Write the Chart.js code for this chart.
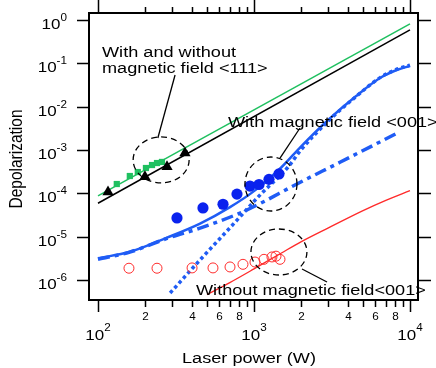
<!DOCTYPE html>
<html>
<head>
<meta charset="utf-8">
<script src="https://cdn.jsdelivr.net/npm/chart.js@4/dist/chart.umd.min.js"></script>
<style>
  html, body { margin: 0; padding: 0; background: #fff; }
  canvas { display: block; }
</style>
</head>
<body>
<canvas id="chart" width="436" height="368"></canvas>
<script>
// Depolarization vs laser power, log-log

// ── straight fits for <111> (with / without field) ──
const fitX = [100, 10000];
const fitGreen = [8.7e-5, 0.81];
const fitBlack = [5.9e-5, 0.59];

// ── measured points ──
const squareX = [132, 160, 180, 203, 222, 239, 257];
const squareY = [1.64e-4, 2.51e-4, 3.1e-4, 3.84e-4, 4.5e-4, 5.0e-4, 5.3e-4];
const triX = [116, 200, 277, 361];
const triY = [1.07e-4, 2.4e-4, 4.1e-4, 8.5e-4];
const dotX = [321, 471, 633, 778, 943, 1077, 1248, 1446];
const dotY = [2.7e-5, 4.6e-5, 5.6e-5, 9.6e-5, 1.47e-4, 1.6e-4, 2.1e-4, 2.8e-4];
const ringX = [158, 239, 401, 546, 702, 850, 1015, 1159, 1304, 1384, 1468];
const ringY = [1.87e-6, 1.87e-6, 1.9e-6, 1.9e-6, 2.0e-6, 2.3e-6, 2.6e-6, 3.0e-6, 3.4e-6, 3.55e-6, 3.0e-6];

// ── model curves for <001> ──
const solidX = [100, 160, 277, 451, 702, 1015, 1500, 2000, 3000, 4500, 6500, 8300, 10000];
const solidY = [3.16e-6, 4.47e-6, 9.5e-6, 2.0e-5, 4.8e-5, 1.17e-4, 4.0e-4, 1.2e-3, 5.0e-3, 1.74e-2, 4.7e-2, 7.1e-2, 8.7e-2];
const dottedX = [290, 451, 778, 1091, 1650, 2000, 3000, 4500, 6500, 8300, 10000];
const dottedY = [5.0e-7, 2.9e-6, 2.4e-5, 9.1e-5, 4.0e-4, 1.0e-3, 4.7e-3, 1.7e-2, 4.8e-2, 7.4e-2, 9.1e-2];
const dashDotX = [100, 160, 277, 451, 813, 1143, 1780, 3555, 8270];
const dashDotY = [3.0e-6, 4.4e-6, 9.1e-6, 1.58e-5, 3.5e-5, 6.3e-5, 1.48e-4, 5.2e-4, 2.45e-3];
const redX = [500, 700, 1000, 1500, 2000, 3000, 5000, 7000, 10000];
const redY = [4.6e-7, 8.7e-7, 1.8e-6, 4.2e-6, 7.6e-6, 1.6e-5, 4.0e-5, 6.9e-5, 1.15e-4];

// ── axes ──
const X_MIN = 87.6, X_MAX = 11254;
const Y_MIN = 3.455e-7, Y_MAX = 1.45;
const xMajor = [100, 1000, 10000];
const xMinorLabels = [2, 4, 6, 8];
const yMajor = [1e-6, 1e-5, 1e-4, 1e-3, 1e-2, 1e-1, 1];

// ── annotations (centres in data units, radii in px) ──
const notes = [
  { lines: ['With and without', 'magnetic field <111>'], x: 102, y: 57 },
  { lines: ['With magnetic field <001>'], x: 228, y: 127 },
  { lines: ['Without magnetic field<001>'], x: 196, y: 295 },
];
const rings = [
  { x: 254, y: 5.9e-4, rx: 28, ry: 23 },
  { x: 1285, y: 1.64e-4, rx: 26, ry: 27 },
  { x: 1445, y: 4.43e-6, rx: 28, ry: 23 },
];
const leaders = [
  [[312, 0.0538], [242, 1.89e-3]],
  [[1972, 3.22e-3], [1468, 6.53e-4]],
  [[2032, 1.79e-6], [2938, 8.99e-7]],
];

const GREEN = '#1fc060';
const BLUE = '#1f5cf5';
const DOT_BLUE = '#0a22ee';
const RED = '#ff2b2b';
const FONT = '"Liberation Sans", Arial, sans-serif';
const SX = 1.17; // the lettering in the figure is stretched sideways

const pts = (xs, ys) => xs.map((x, i) => ({ x, y: ys[i] }));

function txt(ctx, str, x, y, size, align) {
  ctx.save();
  ctx.font = size + 'px ' + FONT;
  const w = ctx.measureText(str).width * SX;
  let left = x;
  if (align === 'center') left = x - w / 2;
  else if (align === 'right') left = x - w;
  ctx.translate(left, y);
  ctx.scale(SX, 1);
  ctx.textAlign = 'left';
  ctx.textBaseline = 'alphabetic';
  ctx.fillStyle = '#000';
  ctx.fillText(str, 0, 0);
  ctx.restore();
  return w;
}

function width(ctx, str, size) {
  ctx.font = size + 'px ' + FONT;
  return ctx.measureText(str).width * SX;
}

const frame = {
  id: 'frame',
  afterDatasetsDraw(chart) {
    const ctx = chart.ctx;
    const xs = chart.scales.x, ys = chart.scales.y;
    ctx.save();
    ctx.strokeStyle = '#000';
    ctx.lineWidth = 1.3;
    ctx.setLineDash([6, 4]);
    for (const r of rings) {
      ctx.beginPath();
      ctx.ellipse(xs.getPixelForValue(r.x), ys.getPixelForValue(r.y), r.rx, r.ry, 0, 0, Math.PI * 2);
      ctx.stroke();
    }
    ctx.setLineDash([]);
    ctx.lineWidth = 1.3;
    for (const [a, b] of leaders) {
      ctx.beginPath();
      ctx.moveTo(xs.getPixelForValue(a[0]), ys.getPixelForValue(a[1]));
      ctx.lineTo(xs.getPixelForValue(b[0]), ys.getPixelForValue(b[1]));
      ctx.stroke();
    }
    for (const n of notes) {
      n.lines.forEach((s, i) => txt(ctx, s, n.x, n.y + i * 16, 15.5, 'left'));
    }
    ctx.restore();
  },
  afterDraw(chart) {
    const ctx = chart.ctx;
    const { left, right, top, bottom } = chart.chartArea;
    const xs = chart.scales.x, ys = chart.scales.y;
    ctx.save();
    ctx.strokeStyle = '#000';
    ctx.lineWidth = 2;
    ctx.strokeRect(left, top, right - left, bottom - top);

    // x ticks, bottom and mirrored on top
    ctx.lineWidth = 1.5;
    for (let d = 100; d <= 10000; d *= 10) {
      for (let m = 1; m <= 9; m++) {
        const v = d * m;
        if (v > 10000) break;
        const px = Math.round(xs.getPixelForValue(v)) + 0.5;
        const major = m === 1;
        ctx.beginPath();
        ctx.moveTo(px, bottom);
        ctx.lineTo(px, bottom + (major ? 12 : 7));
        ctx.moveTo(px, top);
        ctx.lineTo(px, top - (major ? 13 : 6));
        ctx.stroke();
        if (xMinorLabels.includes(m) && d < 10000) {
          txt(ctx, String(m), px, 320, 10, 'center');
        }
      }
    }
    for (const v of xMajor) {
      const px = xs.getPixelForValue(v);
      const e = String(Math.round(Math.log10(v)));
      const wb = width(ctx, '10', 14.5), we = width(ctx, e, 10);
      const x0 = px - (wb + we) / 2;
      txt(ctx, '10', x0, 340, 14.5, 'left');
      txt(ctx, e, x0 + wb, 331, 10, 'left');
    }

    // y ticks, left and mirrored on right
    for (const v of yMajor) {
      const py = Math.round(ys.getPixelForValue(v)) + 0.5;
      ctx.beginPath();
      ctx.moveTo(left, py);
      ctx.lineTo(left - 12, py);
      ctx.moveTo(right, py);
      ctx.lineTo(right + 13, py);
      ctx.stroke();
      const e = String(Math.round(Math.log10(v))).replace('-', '-');
      const we = width(ctx, e, 10);
      txt(ctx, e, 67, py + 0.5, 10, 'right');
      txt(ctx, '10', 67 - we, py + 8, 14.5, 'right');
    }

    // axis titles
    txt(ctx, 'Laser power (W)', 249, 363, 15.5, 'center');
    ctx.save();
    ctx.translate(22, 159);
    ctx.rotate(-Math.PI / 2);
    ctx.scale(1, SX);
    ctx.font = '15.5px ' + FONT;
    ctx.textAlign = 'center';
    ctx.textBaseline = 'alphabetic';
    ctx.fillStyle = '#000';
    ctx.fillText('Depolarization', 0, 0);
    ctx.restore();
    ctx.restore();
  },
};

const datasets = [
  { data: pts(triX, triY), pointStyle: 'triangle', pointRadius: 6.5, backgroundColor: '#000', borderColor: '#000', borderWidth: 0 },
  { data: pts(squareX, squareY), pointStyle: 'rect', pointRadius: 4.4, backgroundColor: GREEN, borderColor: GREEN, borderWidth: 0 },
  { data: pts(dotX, dotY), pointStyle: 'circle', pointRadius: 5.6, backgroundColor: DOT_BLUE, borderColor: DOT_BLUE, borderWidth: 0 },
  { data: pts(ringX, ringY), pointStyle: 'circle', pointRadius: 5, backgroundColor: 'rgba(0,0,0,0)', borderColor: RED, borderWidth: 1 },
  { data: pts(fitX, fitGreen), showLine: true, pointRadius: 0, borderColor: GREEN, borderWidth: 1.5 },
  { data: pts(fitX, fitBlack), showLine: true, pointRadius: 0, borderColor: '#000', borderWidth: 1.5 },
  { data: pts(redX, redY), showLine: true, pointRadius: 0, borderColor: RED, borderWidth: 1.4, tension: 0.4, cubicInterpolationMode: 'monotone' },
  { data: pts(solidX, solidY), showLine: true, pointRadius: 0, borderColor: BLUE, borderWidth: 2.5, cubicInterpolationMode: 'monotone' },
  { data: pts(dottedX, dottedY), showLine: true, pointRadius: 0, borderColor: BLUE, borderWidth: 3.5, borderDash: [3.5, 3], cubicInterpolationMode: 'monotone' },
  { data: pts(dashDotX, dashDotY), showLine: true, pointRadius: 0, borderColor: BLUE, borderWidth: 3.5, borderDash: [12, 5, 4, 5], cubicInterpolationMode: 'monotone' },
];

new Chart(document.getElementById('chart'), {
  type: 'scatter',
  data: { datasets },
  options: {
    responsive: false,
    animation: false,
    devicePixelRatio: 1,
    layout: { padding: { left: 89, top: 13, right: 18, bottom: 68 } },
    plugins: { legend: { display: false }, tooltip: { enabled: false } },
    scales: {
      x: { type: 'logarithmic', display: false, min: X_MIN, max: X_MAX },
      y: { type: 'logarithmic', display: false, min: Y_MIN, max: Y_MAX },
    },
  },
  plugins: [frame],
});
</script>
</body>
</html>
